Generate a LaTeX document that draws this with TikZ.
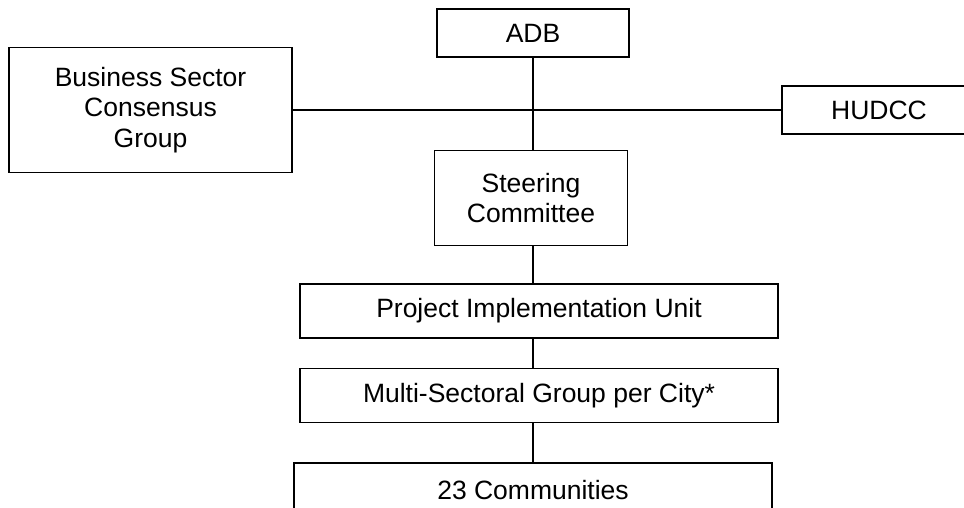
\documentclass[tikz,border=0pt]{standalone}
\usepackage{fontspec}
\setmainfont{Liberation Sans}
\usetikzlibrary{positioning}

\begin{document}
\begin{tikzpicture}[x=1pt,y=1pt,node distance=30pt]
      \tikzstyle{block}=[draw,rectangle,line width=1.5pt,inner sep=0pt,align=center,font=\fontsize{26.5}{30.5}\selectfont]
      \tikzstyle{link}=[line width=1.2pt]

      \clip (0,0) rectangle (964,-508);

      \node[block,minimum width=192pt,minimum height=48pt] (adb) at (533,-33) {ADB};
      \node[block,minimum width=283pt,minimum height=125pt] (bsg) at (150.5,-110) {Business Sector\\Consensus\\Group};
      \node[block,minimum width=194pt,minimum height=48pt] (hudcc) at (879,-110) {HUDCC};
      \node[block,minimum width=193pt,minimum height=95pt,below=92pt of adb,xshift=-2pt] (steer) {Steering\\Committee};
      \node[block,minimum width=478pt,minimum height=54pt,below=37pt of steer,xshift=8pt] (piu) {Project Implementation Unit};
      \node[block,minimum width=478pt,minimum height=54pt,below=29pt of piu] (msg) {Multi-Sectoral Group per City*};
      \node[block,minimum width=478pt,minimum height=54pt,below=39pt of msg,xshift=-6pt] (comm) {23 Communities};

      \draw[link] (bsg.east)--(hudcc.west);
      \draw[link] (adb.south)--(adb.south |- steer.north);
      \draw[link] (steer.south -| adb.south)--(adb.south |- piu.north);
      \draw[link] (piu.south -| adb.south)--(adb.south |- msg.north);
      \draw[link] (msg.south -| adb.south)--(adb.south |- comm.north);
    \end{tikzpicture}
\end{document}
